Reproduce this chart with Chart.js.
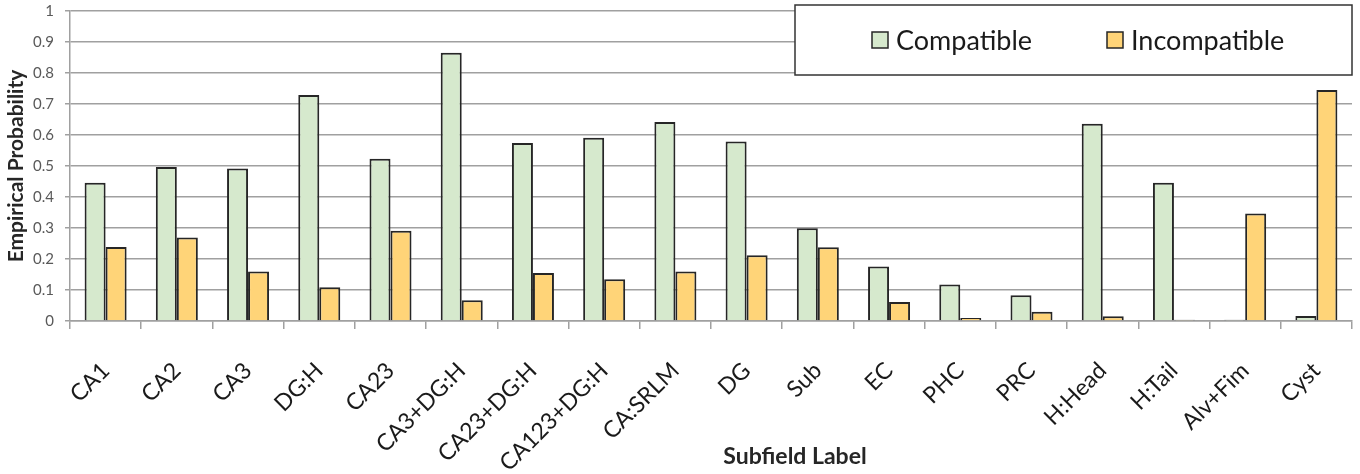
<!DOCTYPE html>
<html>
<head>
<meta charset="utf-8">
<script src="https://cdn.jsdelivr.net/npm/chart.js@4.4.1/dist/chart.umd.min.js"></script>
<style>
html,body{margin:0;padding:0;background:#fff;}
#wrap{width:1360px;height:474px;position:relative;}
</style>
</head>
<body>
<div id="wrap"><canvas id="c" width="1360" height="474"></canvas></div>
<script>
const categories = ["CA1","CA2","CA3","DG:H","CA23","CA3+DG:H","CA23+DG:H","CA123+DG:H","CA:SRLM","DG","Sub","EC","PHC","PRC","H:Head","H:Tail","Alv+Fim","Cyst"];
const compatible = [0.446,0.497,0.492,0.729,0.523,0.865,0.574,0.591,0.642,0.579,0.299,0.176,0.118,0.083,0.636,0.446,0.004,0.016];
const incompatible = [0.239,0.269,0.160,0.109,0.291,0.067,0.155,0.135,0.160,0.212,0.238,0.061,0.010,0.030,0.015,0.004,0.347,0.745];
const seriesNames = ["Compatible","Incompatible"];
const yTitle = "Empirical Probability";
const xTitle = "Subfield Label";

const FONT = "Lato, 'DejaVu Sans', sans-serif";
const GREEN = "#d6e9cd";
const ORANGE = "#ffd478";
const EDGE = "#262626";
const GRID = "#a0a0a0";

const boxLegend = {
  id: 'boxLegend',
  afterDatasetsDraw(chart) {
    const ctx = chart.ctx;
    ctx.save();
    const bx = 795, by = 5, bw = 557, bh = 70;
    ctx.fillStyle = '#fff';
    ctx.fillRect(bx, by, bw, bh);
    ctx.strokeStyle = '#333';
    ctx.lineWidth = 1.5;
    ctx.strokeRect(bx, by, bw, bh);
    const items = [{x: 872, tx: 896}, {x: 1107, tx: 1131}];
    ctx.font = "27px " + FONT;
    ctx.textBaseline = 'middle';
    ctx.textAlign = 'left';
    chart.data.datasets.forEach((ds, i) => {
      const it = items[i];
      ctx.fillStyle = ds.backgroundColor;
      ctx.fillRect(it.x, 32, 16, 16);
      ctx.strokeStyle = EDGE;
      ctx.lineWidth = 1.5;
      ctx.strokeRect(it.x, 32, 16, 16);
      ctx.fillStyle = '#1a1a1a';
      ctx.fillText(ds.label, it.tx, 41);
    });
    ctx.restore();
  },
  afterDraw(chart) {
    const ctx = chart.ctx;
    ctx.save();
    ctx.font = "bold 23px " + FONT;
    ctx.fillStyle = '#262626';
    ctx.textAlign = 'center';
    ctx.textBaseline = 'middle';
    ctx.fillText(xTitle, 795, 457);
    ctx.restore();
  }
};

new Chart(document.getElementById('c'), {
  type: 'bar',
  data: {
    labels: categories,
    datasets: [
      {label: seriesNames[0], data: compatible, backgroundColor: GREEN, borderColor: EDGE, borderWidth: 2},
      {label: seriesNames[1], data: incompatible, backgroundColor: ORANGE, borderColor: EDGE, borderWidth: 2}
    ]
  },
  options: {
    responsive: false,
    animation: false,
    devicePixelRatio: 1,
    layout: {padding: {left: 0, right: 8, top: 11, bottom: 0}},
    datasets: {bar: {categoryPercentage: 0.59, barPercentage: 1.0}},
    plugins: {legend: {display: false}, tooltip: {enabled: false}, title: {display: false}},
    scales: {
      x: {
        grid: {offset: true, drawOnChartArea: false, drawTicks: true, tickLength: 8, color: GRID, lineWidth: 1.5},
        border: {display: true, color: GRID, width: 1.5},
        ticks: {minRotation: 45, maxRotation: 45, autoSkip: false, padding: 28, color: '#1a1a1a', font: {family: FONT, size: 23}},
        afterFit(scale) { scale.height = 153; scale.paddingLeft = 0; scale.paddingRight = 0; }
      },
      y: {
        min: 0, max: 1,
        grid: {color: GRID, lineWidth: 1.5, tickLength: 5, drawTicks: true},
        border: {display: true, color: GRID, width: 1.5},
        ticks: {stepSize: 0.1, padding: 11, color: '#595959', font: {family: FONT, size: 15},
                callback: (v) => String(Math.round(v * 10) / 10)},
        title: {display: true, text: yTitle, color: '#262626', font: {family: FONT, size: 21, weight: 'bold'}, padding: {top: 4, bottom: 0}},
        afterFit(scale) { scale.width = 70; scale.paddingTop = 0; scale.paddingBottom = 0; }
      }
    }
  },
  plugins: [boxLegend]
});
</script>
</body>
</html>
